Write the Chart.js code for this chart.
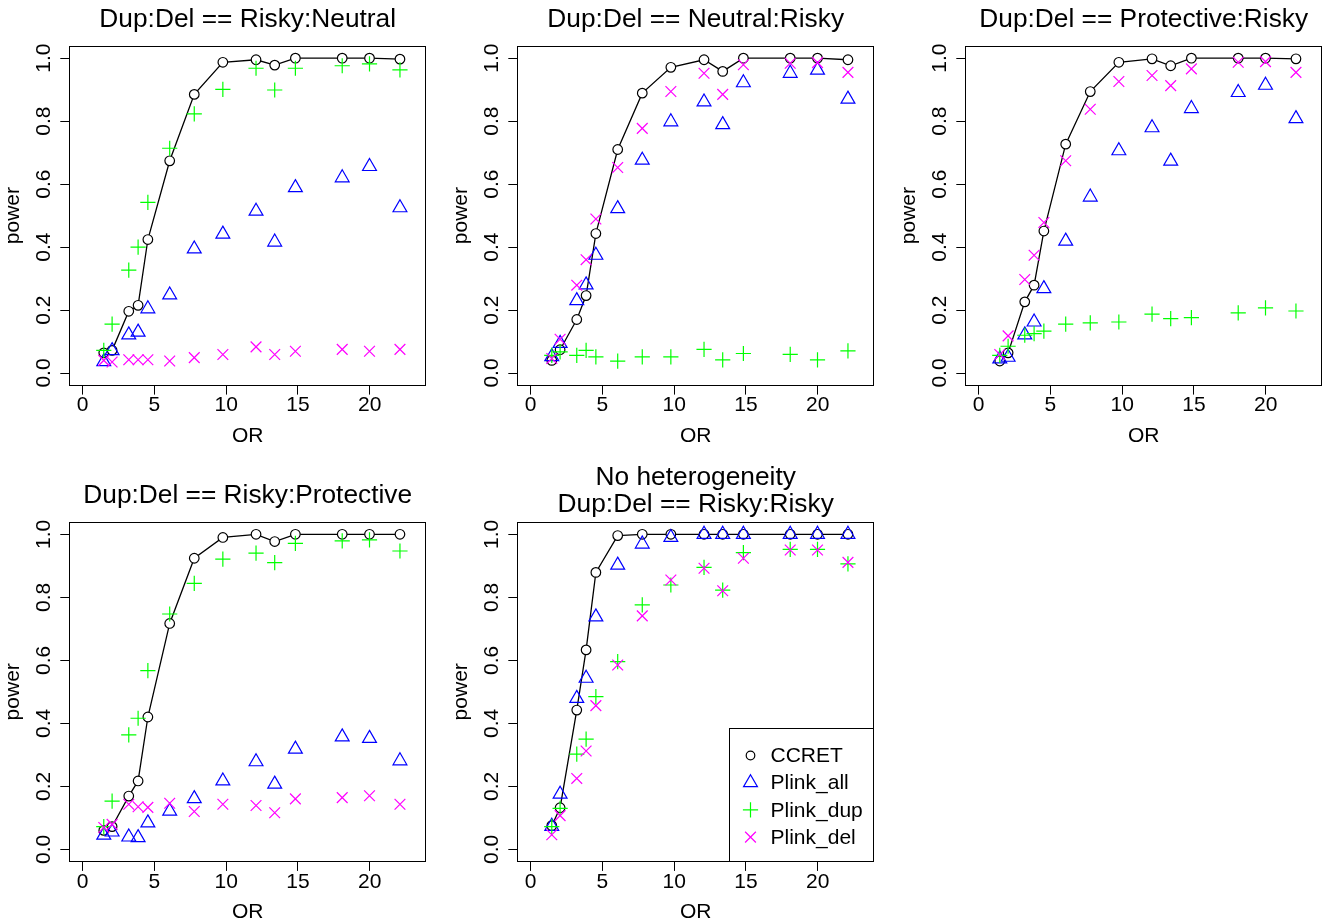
<!DOCTYPE html>
<html>
<head>
<meta charset="utf-8">
<script src="https://cdn.jsdelivr.net/npm/chart.js@4.4.1/dist/chart.umd.min.js"></script>
<style>
html,body{margin:0;padding:0;background:#fff;}
body{width:1322px;height:924px;overflow:hidden;position:relative;}
canvas{position:absolute;}
</style>
</head>
<body>
<script>
// ---------- data ----------
const OR = [1.48, 2.06, 3.22, 3.87, 4.55, 6.07, 7.78, 9.77, 12.08, 13.38, 14.82, 18.08, 19.98, 22.1];
const xTicks = [0, 5, 10, 15, 20];
const yTicks = [0.0, 0.2, 0.4, 0.6, 0.8, 1.0];
const seriesNames = ['CCRET', 'Plink_all', 'Plink_dup', 'Plink_del'];

const title1 = 'Dup:Del == Risky:Neutral';
const title2 = 'Dup:Del == Neutral:Risky';
const title3 = 'Dup:Del == Protective:Risky';
const title4 = 'Dup:Del == Risky:Protective';
const title5 = ['No heterogeneity', 'Dup:Del == Risky:Risky'];

const p1_ccret = [0.064, 0.072, 0.196, 0.215, 0.424, 0.674, 0.885, 0.987, 0.995, 0.978, 1.0, 1.0, 1.0, 0.997];
const p1_all   = [0.036, 0.071, 0.121, 0.130, 0.204, 0.248, 0.394, 0.441, 0.514, 0.416, 0.589, 0.620, 0.656, 0.525];
const p1_dup   = [0.072, 0.155, 0.327, 0.400, 0.542, 0.714, 0.823, 0.901, 0.968, 0.899, 0.968, 0.976, 0.982, 0.963];
const p1_del   = [0.040, 0.035, 0.042, 0.042, 0.042, 0.038, 0.049, 0.059, 0.083, 0.059, 0.069, 0.075, 0.069, 0.075];

const p2_ccret = [0.040, 0.074, 0.170, 0.246, 0.443, 0.710, 0.889, 0.971, 0.995, 0.958, 1.0, 1.0, 1.0, 0.995];
const p2_all   = [0.052, 0.094, 0.230, 0.280, 0.374, 0.522, 0.676, 0.798, 0.861, 0.789, 0.922, 0.952, 0.962, 0.870];
const p2_dup   = [0.056, 0.067, 0.056, 0.072, 0.051, 0.038, 0.051, 0.051, 0.075, 0.042, 0.062, 0.059, 0.042, 0.070];
const p2_del   = [0.046, 0.107, 0.279, 0.360, 0.489, 0.653, 0.777, 0.894, 0.952, 0.885, 0.979, 0.984, 0.986, 0.955];

const p3_ccret = [0.038, 0.064, 0.226, 0.279, 0.451, 0.727, 0.894, 0.987, 0.998, 0.976, 1.0, 1.0, 1.0, 0.998];
const p3_all   = [0.045, 0.050, 0.121, 0.162, 0.268, 0.419, 0.559, 0.706, 0.779, 0.673, 0.840, 0.891, 0.914, 0.808];
const p3_dup   = [0.056, 0.085, 0.120, 0.125, 0.133, 0.155, 0.159, 0.162, 0.187, 0.173, 0.176, 0.191, 0.207, 0.197];
const p3_del   = [0.059, 0.118, 0.297, 0.374, 0.478, 0.674, 0.838, 0.926, 0.945, 0.913, 0.966, 0.987, 0.989, 0.955];

const p4_ccret = [0.060, 0.072, 0.169, 0.217, 0.420, 0.717, 0.924, 0.990, 1.0, 0.977, 1.0, 1.0, 1.0, 1.0];
const p4_all   = [0.045, 0.055, 0.039, 0.037, 0.084, 0.121, 0.161, 0.217, 0.278, 0.207, 0.318, 0.357, 0.352, 0.281];
const p4_dup   = [0.072, 0.153, 0.363, 0.416, 0.567, 0.747, 0.844, 0.921, 0.940, 0.910, 0.971, 0.979, 0.982, 0.947];
const p4_del   = [0.069, 0.079, 0.143, 0.135, 0.133, 0.146, 0.120, 0.143, 0.139, 0.116, 0.160, 0.164, 0.170, 0.143];

const p5_ccret = [0.075, 0.132, 0.442, 0.633, 0.879, 0.996, 1.0, 1.0, 1.0, 1.0, 1.0, 1.0, 1.0, 1.0];
const p5_all   = [0.073, 0.175, 0.479, 0.543, 0.738, 0.902, 0.969, 0.990, 1.0, 1.0, 1.0, 1.0, 1.0, 1.0];
const p5_dup   = [0.072, 0.130, 0.302, 0.350, 0.485, 0.596, 0.776, 0.839, 0.895, 0.823, 0.942, 0.952, 0.952, 0.906];
const p5_del   = [0.046, 0.107, 0.225, 0.312, 0.456, 0.585, 0.741, 0.855, 0.892, 0.821, 0.924, 0.950, 0.950, 0.911];

// ---------- styling / layout ----------
const FONT = "'Liberation Sans', Arial, Helvetica, sans-serif";
Chart.defaults.font.family = FONT;
Chart.defaults.color = '#000';

const CW = 448, CH = 476;
const Y_W = 69.3, AREA_W = 356.8;
const TITLE_SIZE = 26.3;

const seriesStyle = [
  {pointStyle: 'circle',   radius: 4.8, color: '#000000', bg: '#ffffff', line: true,  order: 4},
  {pointStyle: 'triangle', radius: 8.0, color: '#0000ff', bg: 'rgba(0,0,0,0)', line: false, order: 3},
  {pointStyle: 'cross',    radius: 7.6, color: '#00ff00', bg: 'rgba(0,0,0,0)', line: false, order: 2},
  {pointStyle: 'crossRot', radius: 7.6, color: '#ff00ff', bg: 'rgba(0,0,0,0)', line: false, order: 1}
];

const panels = [
  {title: title1, series: [p1_ccret, p1_all, p1_dup, p1_del], left: 0,   top: 0,   aTop: 45.6,  aBot: 385.6, tC: 19.7,  tLH: 26,   orC: 436,   legend: false},
  {title: title2, series: [p2_ccret, p2_all, p2_dup, p2_del], left: 448, top: 0,   aTop: 45.6,  aBot: 385.6, tC: 19.7,  tLH: 26,   orC: 436,   legend: false},
  {title: title3, series: [p3_ccret, p3_all, p3_dup, p3_del], left: 896, top: 0,   aTop: 45.6,  aBot: 385.6, tC: 19.7,  tLH: 26,   orC: 436,   legend: false},
  {title: title4, series: [p4_ccret, p4_all, p4_dup, p4_del], left: 0,   top: 456, aTop: 521.7, aBot: 861.9, tC: 495.9, tLH: 26,   orC: 912.2, legend: false},
  {title: title5, series: [p5_ccret, p5_all, p5_dup, p5_del], left: 448, top: 456, aTop: 521.7, aBot: 861.9, tC: 478.0, tLH: 26.5, orC: 912.2, legend: true}
];

function drawMarker(ctx, style, x, y, r) {
  ctx.beginPath();
  if (style === 'circle') {
    ctx.arc(x, y, r, 0, Math.PI * 2);
    ctx.closePath();
  } else if (style === 'triangle') {
    let a = 0;
    ctx.moveTo(x + Math.sin(a) * r, y - Math.cos(a) * r);
    a += 2 * Math.PI / 3;
    ctx.lineTo(x + Math.sin(a) * r, y - Math.cos(a) * r);
    a += 2 * Math.PI / 3;
    ctx.lineTo(x + Math.sin(a) * r, y - Math.cos(a) * r);
    ctx.closePath();
  } else if (style === 'cross') {
    ctx.moveTo(x - r, y); ctx.lineTo(x + r, y);
    ctx.moveTo(x, y - r); ctx.lineTo(x, y + r);
  } else if (style === 'crossRot') {
    const d = r * Math.SQRT1_2;
    ctx.moveTo(x - d, y - d); ctx.lineTo(x + d, y + d);
    ctx.moveTo(x + d, y - d); ctx.lineTo(x - d, y + d);
  }
  ctx.stroke();
}

const boxPlugin = {
  id: 'frameBox',
  afterDatasetsDraw(chart) {
    const {ctx, chartArea: a} = chart;
    ctx.save();
    ctx.strokeStyle = '#000';
    ctx.lineWidth = 1;
    const x1 = Math.round(a.left) + 0.5, x2 = Math.round(a.right) - 0.5;
    const y1 = Math.round(a.top) + 0.5, y2 = Math.round(a.bottom) - 0.5;
    ctx.strokeRect(x1, y1, x2 - x1, y2 - y1);
    ctx.restore();
  }
};

const legendPlugin = {
  id: 'rLegend',
  afterDraw(chart) {
    const {ctx, chartArea: a} = chart;
    const w = 145.5, h = 134;
    const x0 = Math.round(a.right - w) + 0.5, y0 = Math.round(a.bottom - h) + 0.5;
    ctx.save();
    ctx.fillStyle = '#fff';
    ctx.fillRect(x0, y0, Math.round(a.right) - 0.5 - x0, Math.round(a.bottom) - 0.5 - y0);
    ctx.strokeStyle = '#000';
    ctx.lineWidth = 1;
    ctx.strokeRect(x0, y0, Math.round(a.right) - 0.5 - x0, Math.round(a.bottom) - 0.5 - y0);
    chart.data.datasets.forEach((ds, i) => {
      const cy = y0 + 27 + i * 27.2;
      const cx = x0 + 21;
      ctx.strokeStyle = ds.borderColor;
      ctx.lineWidth = 1.2;
      drawMarker(ctx, ds.pointStyle, cx, cy, ds.pointStyle === 'circle' ? 4.3 : ds.pointRadius);
      ctx.fillStyle = '#000';
      ctx.font = '21px ' + FONT;
      ctx.textAlign = 'left';
      ctx.textBaseline = 'middle';
      ctx.fillText(ds.label, x0 + 41, cy + 1);
    });
    ctx.restore();
  }
};

panels.forEach((p, idx) => {
  const cv = document.createElement('canvas');
  cv.width = CW; cv.height = CH;
  cv.style.left = p.left + 'px';
  cv.style.top = p.top + 'px';
  cv.style.width = CW + 'px';
  cv.style.height = CH + 'px';
  document.body.appendChild(cv);

  const lines = Array.isArray(p.title) ? p.title.length : 1;
  const tPadTop = (p.tC - p.top) - p.tLH / 2;
  const tPadBot = (p.aTop - p.top) - tPadTop - lines * p.tLH;
  const xH = CH - (p.aBot - p.top);
  const orPadBot = (CH - (p.orC - p.top)) - 12.6;

  const datasets = p.series.map((vals, i) => {
    const st = seriesStyle[i];
    return {
      label: seriesNames[i],
      data: OR.map((x, k) => ({x: x, y: vals[k]})),
      showLine: st.line,
      borderColor: st.color,
      backgroundColor: st.bg,
      borderWidth: 1.3,
      pointStyle: st.pointStyle,
      pointRadius: st.radius,
      pointBorderColor: st.color,
      pointBackgroundColor: st.bg,
      pointBorderWidth: 1.2,
      pointHoverRadius: st.radius,
      order: st.order,
      tension: 0
    };
  });

  const tickFont = {family: FONT, size: 21, lineHeight: 1};
  const gridOpts = {drawOnChartArea: false, drawTicks: true, tickLength: 9, color: '#000', tickColor: '#000', lineWidth: 1, tickWidth: 1};

  new Chart(cv, {
    type: 'scatter',
    data: {datasets: datasets},
    options: {
      responsive: false,
      animation: false,
      devicePixelRatio: 1,
      events: [],
      layout: {padding: {left: 0, right: CW - Y_W - AREA_W, top: 0, bottom: 0}},
      plugins: {
        legend: {display: false},
        tooltip: {enabled: false},
        title: {
          display: true,
          text: p.title,
          fullSize: false,
          color: '#000',
          font: {family: FONT, size: TITLE_SIZE, weight: 'normal', lineHeight: p.tLH + 'px'},
          padding: {top: tPadTop, bottom: tPadBot}
        }
      },
      scales: {
        x: {
          type: 'linear',
          position: 'bottom',
          min: -0.92, max: 23.92,
          afterBuildTicks: s => { s.ticks = xTicks.map(v => ({value: v})); },
          afterFit: s => { s.height = xH; },
          ticks: {font: tickFont, color: '#000', padding: 0.4, maxRotation: 0, autoSkip: false,
                  callback: v => String(v)},
          grid: gridOpts,
          border: {display: false},
          title: {display: true, text: 'OR', color: '#000',
                  font: {family: FONT, size: 21, lineHeight: 1.2},
                  padding: {top: 0, bottom: orPadBot}}
        },
        y: {
          type: 'linear',
          position: 'left',
          min: -0.04, max: 1.04,
          afterBuildTicks: s => { s.ticks = yTicks.map(v => ({value: v})); },
          afterFit: s => { s.width = Y_W; },
          ticks: {font: tickFont, color: '#000', padding: 1.8, minRotation: 90, maxRotation: 90,
                  crossAlign: 'center', autoSkip: false, callback: v => Number(v).toFixed(1)},
          grid: gridOpts,
          border: {display: false},
          title: {display: true, text: 'power', color: '#000',
                  font: {family: FONT, size: 21, lineHeight: 1.2},
                  padding: {top: 1.0, bottom: 0}}
        }
      }
    },
    plugins: p.legend ? [boxPlugin, legendPlugin] : [boxPlugin]
  });
});
</script>
</body>
</html>
